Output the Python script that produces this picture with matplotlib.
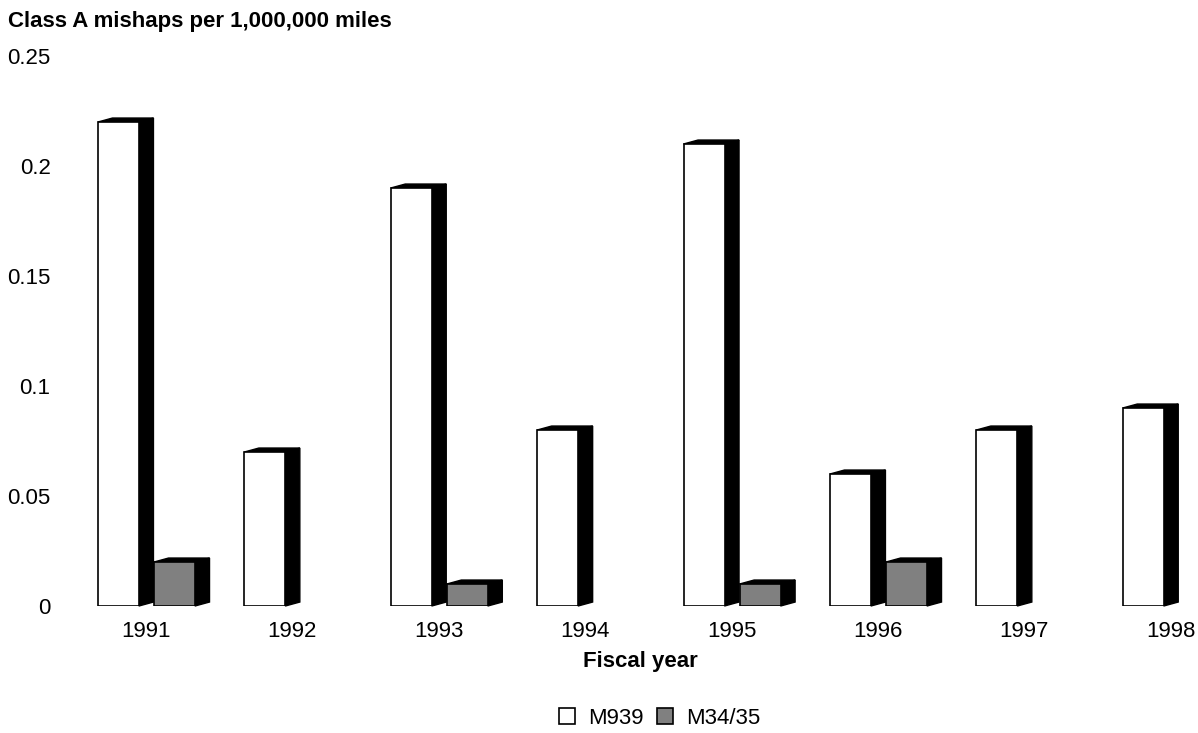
import numpy as np
import matplotlib.pyplot as plt
from matplotlib.patches import Patch

plt.rcParams['font.family'] = ['Liberation Sans', 'DejaVu Sans']

# mishap rates per fiscal year
years = ['1991', '1992', '1993', '1994', '1995', '1996', '1997', '1998']
m939 = [0.22, 0.07, 0.19, 0.08, 0.21, 0.06, 0.08, 0.09]
m3435 = [0.02, 0, 0.01, 0, 0.01, 0.02, 0, 0]

x = np.arange(len(years))
w = 0.28
dx = 0.099      # depth of the fake 3d bars, sideways
dy = 0.0018     # and upwards
fs = 16

fig = plt.figure(figsize=(11.98, 7.33), dpi=100)
ax = fig.add_axes([70/1198, 127/733, 1128/1198, 550/733])


def bar3d(left, h, color):
    # front face
    ax.bar(left, h, width=w, align='edge', color=color, edgecolor='black', linewidth=1.2, zorder=3)
    r = left + w
    # right side
    ax.fill([r, r+dx, r+dx, r], [0, dy, h+dy, h], color='black', zorder=2, clip_on=False)
    # top
    ax.fill([left, left+dx, r+dx, r], [h, h+dy, h+dy, h], color='black', zorder=2, clip_on=False)


for i in range(len(years)):
    if m939[i] > 0:
        bar3d(x[i] - 0.328, m939[i], 'white')
    if m3435[i] > 0:
        bar3d(x[i] + 0.055, m3435[i], '#808080')

ax.set_xlim(-0.519, 7.186)
ax.set_ylim(0, 0.25)
ax.set_xticks(x)
ax.set_xticklabels(years, fontsize=fs)
ax.set_yticks([0, 0.05, 0.1, 0.15, 0.2, 0.25])
ax.set_yticklabels(['0', '0.05', '0.1', '0.15', '0.2', '0.25'], fontsize=fs)
ax.tick_params(axis='y', length=0, pad=14)
ax.tick_params(axis='x', length=0, pad=11)
for s in ax.spines.values():
    s.set_visible(False)

fig.text(8/1198, 1 - 21/733, 'Class A mishaps per 1,000,000 miles', fontsize=fs,
         fontweight='bold', ha='left', va='center')
fig.text(640/1198, 1 - 662/733, 'Fiscal year', fontsize=fs, fontweight='bold',
         ha='center', va='center')

handles = [Patch(facecolor='white', edgecolor='black', linewidth=1.2),
           Patch(facecolor='#808080', edgecolor='black', linewidth=1.2)]
fig.legend(handles, ['M939', 'M34/35'], loc='center', bbox_to_anchor=(660/1198, 1 - 718/733),
           ncol=2, frameon=False, fontsize=fs, handlelength=0.72, handleheight=0.72,
           handletextpad=0.6, columnspacing=0.6)

fig.savefig('out.png')
